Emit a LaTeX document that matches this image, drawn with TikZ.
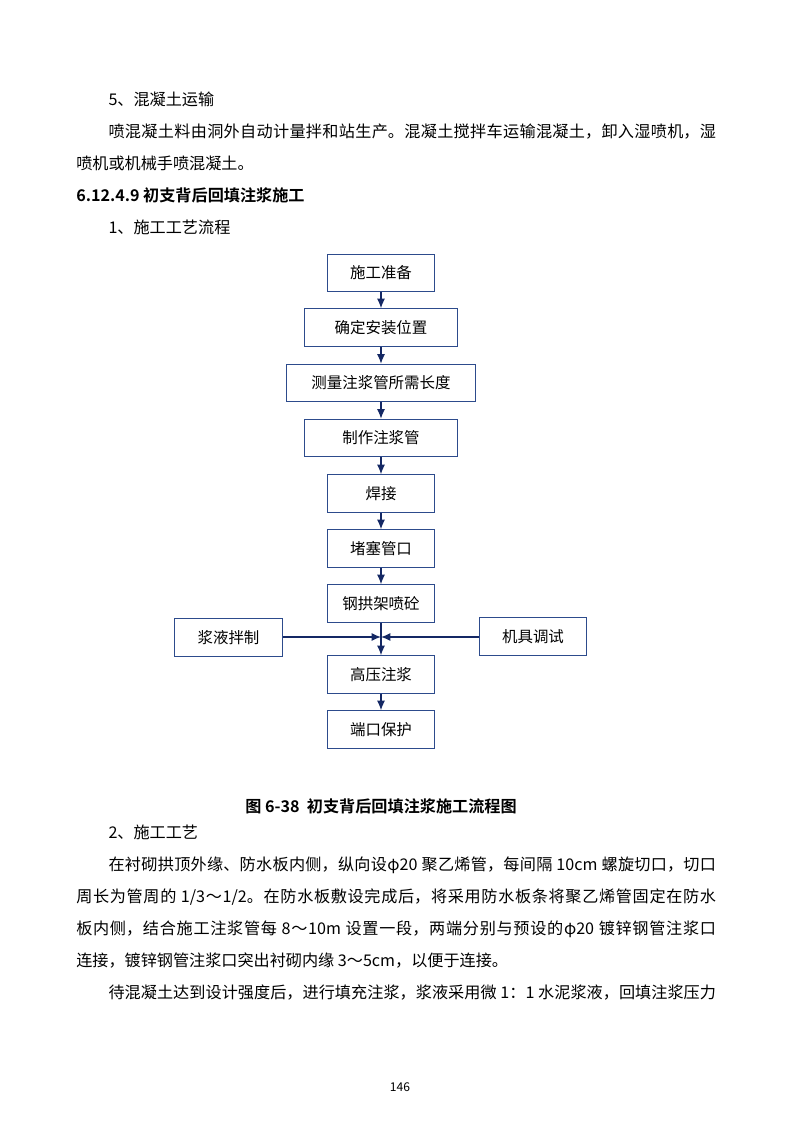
\documentclass[tikz,border=0pt]{standalone}
\usepackage{fontspec}
\setmainfont{Noto Sans CJK SC}[BoldFont={* Bold}]
\usetikzlibrary{calc, arrows.meta}
\XeTeXlinebreaklocale "zh"
\XeTeXlinebreakskip=0pt plus 1pt
\definecolor{boxline}{RGB}{45,75,140}
\definecolor{arrowline}{RGB}{20,40,100}
\newcommand{\paraset}{\fontsize{12pt}{23.8pt}\selectfont\parindent=24pt}

\begin{document}
\begin{tikzpicture}[x=0.744pt, y=-0.744pt]
    \tikzstyle{stage} = [rectangle, draw=boxline, line width=.8pt, minimum height=28pt,
        inner sep=0pt, font=\fontsize{11.5pt}{13pt}\selectfont]
    \tikzstyle{flow} = [-{Latex[length=7pt, width=6pt]}, arrowline, line width=1pt]
    \tikzstyle{para} = [anchor=north west, inner sep=0pt, text width=476pt, align=justify]

    \useasboundingbox (0, 0) rectangle (800, 1132);
    \fill[white] (0, 0) rectangle (800, 1132);

    % Text above ----------------------------------------
    \node (p1) at (76, 92) [para] {\paraset
        \hspace*{24pt}5、混凝土运输\par
        喷混凝土料由洞外自动计量拌和站生产。混凝土搅拌车运输混凝土，卸入湿喷机，湿\linebreak
        喷机或机械手喷混凝土。\par
        \noindent\textbf{6.12.4.9 初支背后回填注浆施工}\par
        1、施工工艺流程\par};

    % Flow chart ----------------------------------------
    \node (s1) at (381, 273) [stage, minimum width=80pt] {施工准备};
    \node (s2) at (381, 327.5) [stage, minimum width=114pt] {确定安装位置};
    \node (s3) at (381, 383) [stage, minimum width=140pt] {测量注浆管所需长度};
    \node (s4) at (381, 438) [stage, minimum width=114pt] {制作注浆管};
    \node (s5) at (381, 493.5) [stage, minimum width=80pt] {焊接};
    \node (s6) at (381, 548.5) [stage, minimum width=80pt] {堵塞管口};
    \node (s7) at (381, 603.5) [stage, minimum width=80pt] {钢拱架喷砼};
    \node (s8) at (381, 674.5) [stage, minimum width=80pt] {高压注浆};
    \node (s9) at (381, 729.5) [stage, minimum width=80pt] {端口保护};
    \node (mix) at (228.5, 637.5) [stage, minimum width=81pt] {浆液拌制};
    \node (tune) at (533, 636.5) [stage, minimum width=80pt] {机具调试};
    \coordinate (join) at (381, 637);

    \draw [flow] (s1) -- (s2);
    \draw [flow] (s2) -- (s3);
    \draw [flow] (s3) -- (s4);
    \draw [flow] (s4) -- (s5);
    \draw [flow] (s5) -- (s6);
    \draw [flow] (s6) -- (s7);
    \draw [flow] (s7) -- (s8);
    \draw [flow] (s8) -- (s9);
    \draw [flow] (mix.east |- join) -- (join);
    \draw [flow] (tune.west |- join) -- (join);

    % Caption and text below ----------------------------
    \node (cap) at (381, 806) {\fontsize{12pt}{14pt}\selectfont\textbf{图 6-38\ \ 初支背后回填注浆施工流程图}};

    \node (p2) at (76, 825) [para] {\paraset
        \hspace*{24pt}2、施工工艺\par
        在衬砌拱顶外缘、防水板内侧，纵向设φ20 聚乙烯管，每间隔 10cm 螺旋切口，切口\linebreak
        周长为管周的 1/3～1/2。在防水板敷设完成后，将采用防水板条将聚乙烯管固定在防水\linebreak
        板内侧，结合施工注浆管每 8～10m 设置一段，两端分别与预设的φ20 镀锌钢管注浆口\linebreak
        连接，镀锌钢管注浆口突出衬砌内缘 3～5cm，以便于连接。\par
        {\parfillskip=0pt 待混凝土达到设计强度后，进行填充注浆，浆液采用微 1：1 水泥浆液，回填注浆压力\par}};

    \node (page) at (400, 1087) {\fontsize{9pt}{10pt}\selectfont 146};
\end{tikzpicture}
\end{document}
